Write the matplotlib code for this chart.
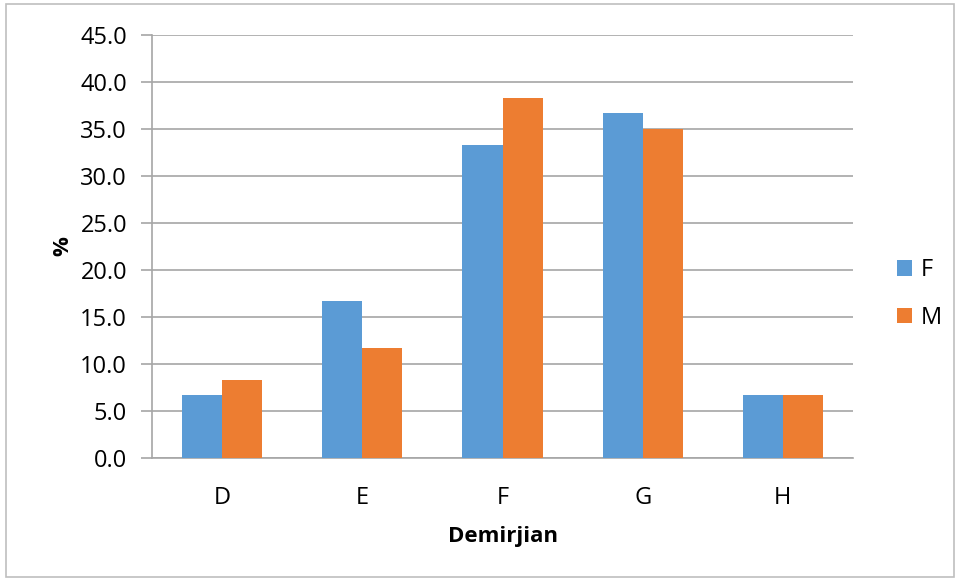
import matplotlib.pyplot as plt
import numpy as np
from matplotlib.patches import Rectangle

# Demirjian stage distribution by sex (%)
stages = ['D', 'E', 'F', 'G', 'H']
fem = [6.7, 16.7, 33.3, 36.7, 6.7]
male = [8.3, 11.7, 38.3, 35.0, 6.7]
yticks = np.arange(0, 45.1, 5)

plt.rcParams['font.family'] = ['Open Sans', 'DejaVu Sans']
grid_c = '#a6a6a6'

fig = plt.figure(figsize=(9.55, 5.79), dpi=100)
ax = fig.add_axes([152/955, 1-458/579, (853-152)/955, (458-35)/579])

x = np.arange(len(stages))
w = 0.2857
ax.bar(x - w/2, fem, w, color='#5b9bd5', label='F', zorder=3)
ax.bar(x + w/2, male, w, color='#ed7d31', label='M', zorder=3)

ax.set_xlim(-0.5, len(stages) - 0.5)
ax.set_ylim(0, 45)
ax.set_yticks(yticks)
ax.set_yticklabels([f'{v:.1f}' for v in yticks], fontsize=17)
ax.set_xticks(x)
ax.set_xticklabels(stages, fontsize=17)
ax.yaxis.grid(True, color=grid_c, linewidth=1.2, zorder=0)
ax.tick_params(axis='y', length=8, color=grid_c, width=1.2, pad=10)
ax.tick_params(axis='x', length=0, pad=20)
for s in ['top', 'right']:
    ax.spines[s].set_visible(False)
for s in ['left', 'bottom']:
    ax.spines[s].set_color(grid_c)
    ax.spines[s].set_linewidth(1.2)

ax.set_xlabel('Demirjian', fontsize=16, fontweight='bold', labelpad=12)
ax.set_ylabel('%', fontsize=16, fontweight='bold', labelpad=5)

ax.legend(loc='center left', bbox_to_anchor=(1.032, 0.388), frameon=False,
          fontsize=17, handlelength=0.65, handleheight=0.65, labelspacing=1.0,
          handletextpad=0.35)

# outer chart border
fig.patches.append(Rectangle((6/955, 1-577/579), 948/955, 573/579,
                             transform=fig.transFigure, fill=False,
                             edgecolor='#bfbfbf', linewidth=1.2))

fig.savefig('out.png', dpi=100)
